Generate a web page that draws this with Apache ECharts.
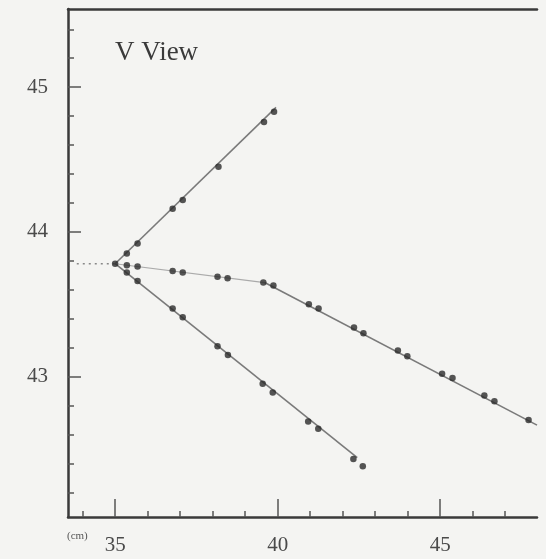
<!DOCTYPE html>
<html>
<head>
<meta charset="utf-8">
<script src="https://cdn.jsdelivr.net/npm/echarts@6/dist/echarts.min.js"></script>
<style>
html,body{margin:0;padding:0;background:#f4f4f2;}
#c{width:546px;height:559px;}
</style>
</head>
<body>
<div id="c"></div>
<script>
// ---- data ----
var titleText = 'V View';
var unitText = '(cm)';
var xLabels = [35, 40, 45];
var xMinorTicks = [34, 36, 37, 38, 39, 41, 42, 43, 44, 46, 47];
var yLabels = [43, 44, 45];
var yMinorTicks = [42.2, 42.4, 42.6, 42.8, 43.2, 43.4, 43.6, 43.8, 44.2, 44.4, 44.6, 44.8, 45.2, 45.4];

var upperX = [35.0, 35.36, 35.69, 36.77, 37.08, 38.18, 39.58, 39.89];
var upperY = [43.78, 43.85, 43.92, 44.16, 44.22, 44.45, 44.76, 44.83];

var middleX = [35.36, 35.69, 36.77, 37.08, 38.15, 38.46, 39.56, 39.87, 40.96, 41.26, 42.35, 42.64, 43.70, 43.99, 45.06, 45.38, 46.36, 46.67, 47.72];
var middleY = [43.77, 43.76, 43.73, 43.72, 43.69, 43.68, 43.65, 43.63, 43.50, 43.47, 43.34, 43.30, 43.18, 43.14, 43.02, 42.99, 42.87, 42.83, 42.70];

var lowerX = [35.36, 35.69, 36.77, 37.08, 38.15, 38.47, 39.54, 39.85, 40.94, 41.25, 42.33, 42.62];
var lowerY = [43.72, 43.66, 43.47, 43.41, 43.21, 43.15, 42.95, 42.89, 42.69, 42.64, 42.43, 42.38];

// fitted track lines
var upperFit = [[35.0, 43.78], [39.95, 44.86]];
var middleFitA = [[35.0, 43.78], [39.6, 43.65]];
var middleFitB = [[39.6, 43.65], [47.98, 42.665]];
var lowerFit = [[35.0, 43.78], [42.45, 42.44]];
var leadIn = [[33.82, 43.78], [35.0, 43.78]];

function zip(xs, ys){ return xs.map(function(x,i){ return [x, ys[i]]; }); }

var FONT = '"Liberation Serif", "DejaVu Serif", serif';
var XMIN = 33.55, XMAX = 47.98, YMIN = 42.03, YMAX = 45.54;

var chart = echarts.init(document.getElementById('c'), null, {renderer:'canvas'});
var lineStyleAxis = {color:'#3a3a3a', width:2.5};
var tickStyle = {color:'#555', width:1.5};

var option = {
  backgroundColor:'#f4f4f2',
  animation:false,
  grid:{left:68, right:9, top:9, bottom:42, containLabel:false},
  title:{text:titleText, left:110, top:34, textStyle:{fontFamily:FONT, fontSize:27, fontWeight:'normal', color:'#3a3a3a'}},
  graphic:[{type:'text', left:67, top:531, style:{text:unitText, font:'11px ' + FONT, fill:'#555'}}],
  xAxis:[
    {type:'value', min:XMIN, max:XMAX, position:'bottom',
     axisLine:{show:true, lineStyle:lineStyleAxis},
     axisTick:{show:true, inside:true, length:18, customValues:xLabels, lineStyle:tickStyle},
     axisLabel:{show:true, customValues:xLabels, margin:18, fontFamily:FONT, fontSize:21, color:'#4a4a4a'},
     splitLine:{show:false}},
    {type:'value', min:XMIN, max:XMAX, position:'bottom',
     axisLine:{show:false},
     axisTick:{show:true, inside:true, length:6, customValues:xMinorTicks, lineStyle:tickStyle},
     axisLabel:{show:false}, splitLine:{show:false}},
    {type:'value', min:XMIN, max:XMAX, position:'top',
     axisLine:{show:true, lineStyle:lineStyleAxis},
     axisTick:{show:false}, axisLabel:{show:false}, splitLine:{show:false}}
  ],
  yAxis:[
    {type:'value', min:YMIN, max:YMAX, position:'left',
     axisLine:{show:true, lineStyle:lineStyleAxis},
     axisTick:{show:true, inside:true, length:13, customValues:yLabels, lineStyle:tickStyle},
     axisLabel:{show:true, customValues:yLabels, margin:20, fontFamily:FONT, fontSize:21, color:'#4a4a4a'},
     splitLine:{show:false}},
    {type:'value', min:YMIN, max:YMAX, position:'left',
     axisLine:{show:false},
     axisTick:{show:true, inside:true, length:6, customValues:yMinorTicks, lineStyle:tickStyle},
     axisLabel:{show:false}, splitLine:{show:false}}
  ],
  series:[
    {type:'line', data:leadIn, symbol:'none', lineStyle:{color:'#888', width:1.5, type:[2,4]}, z:2},
    {type:'line', data:upperFit, symbol:'none', lineStyle:{color:'#7a7a7a', width:1.6}, z:2},
    {type:'line', data:middleFitA, symbol:'none', lineStyle:{color:'#aaa', width:1.2}, z:2},
    {type:'line', data:middleFitB, symbol:'none', lineStyle:{color:'#7a7a7a', width:1.6}, z:2},
    {type:'line', data:lowerFit, symbol:'none', lineStyle:{color:'#7a7a7a', width:1.6}, z:2},
    {type:'scatter', data:zip(upperX, upperY), symbol:'circle', symbolSize:6.5, itemStyle:{color:'#2a2a2a'}, z:3},
    {type:'scatter', data:zip(middleX, middleY), symbol:'circle', symbolSize:6.5, itemStyle:{color:'#2a2a2a'}, z:3},
    {type:'scatter', data:zip(lowerX, lowerY), symbol:'circle', symbolSize:6.5, itemStyle:{color:'#2a2a2a'}, z:3}
  ]
};
chart.setOption(option);
</script>
</body>
</html>
